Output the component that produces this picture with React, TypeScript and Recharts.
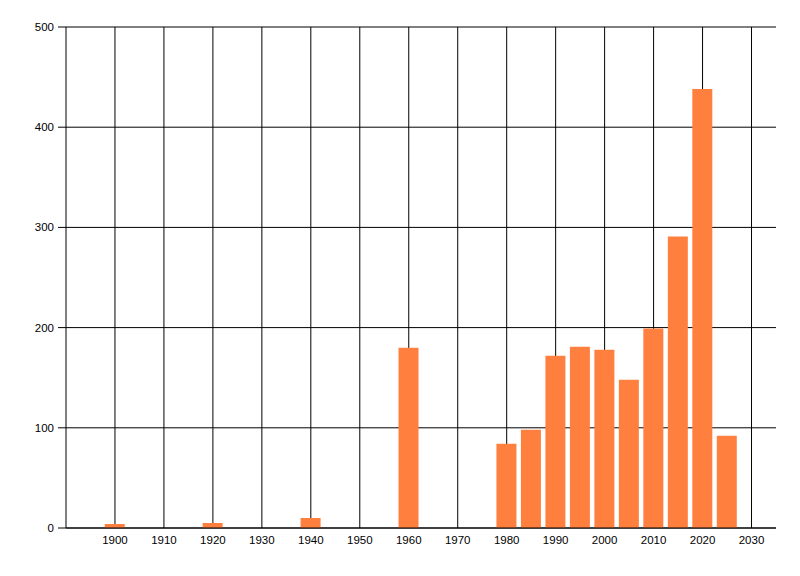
import React from "react";
import { BarChart, Bar, XAxis, YAxis, CartesianGrid } from "recharts";

const years = [1900, 1920, 1940, 1960, 1980, 1985, 1990, 1995, 2000, 2005, 2010, 2015, 2020, 2025];
const counts = [4, 5, 10, 180, 84, 98, 172, 181, 178, 148, 199, 291, 438, 92];
const xTicks = [1900, 1910, 1920, 1930, 1940, 1950, 1960, 1970, 1980, 1990, 2000, 2010, 2020, 2030];
const yTicks = [0, 100, 200, 300, 400, 500];

const data = years.map((y, i) => ({ year: y, count: counts[i] }));

const verticalGen = (props: any) => {
  const axis = props && props.xAxis;
  const scale = axis && axis.scale;
  if (scale && typeof scale === "function") {
    return xTicks.map((t) => scale(t));
  }
  if (scale && typeof scale.map === "function") {
    return xTicks.map((t) => scale.map(t));
  }
  return [];
};

export default function App() {
  return (
    <div style={{ fontFamily: "'Liberation Sans', Arial, sans-serif" }}>
      <BarChart
        width={792}
        height={568}
        data={data}
        margin={{ top: 19, right: 24, bottom: 18, left: 0 }}
      >
        <CartesianGrid stroke="#000" strokeWidth={1} verticalCoordinatesGenerator={verticalGen} />
        <XAxis
          dataKey="year"
          type="number"
          domain={[1890, 2035]}
          ticks={xTicks}
          tickLine={false}
          axisLine={{ stroke: "#000" }}
          tick={{ fill: "#000", fontSize: 11.5 }}
          tickSize={6}
          tickMargin={2}
          height={30}
          allowDataOverflow
        />
        <YAxis
          type="number"
          domain={[0, 500]}
          ticks={yTicks}
          width={58}
          axisLine={{ stroke: "#000" }}
          tickLine={{ stroke: "#000" }}
          tickSize={8}
          tickMargin={4}
          tick={{ fill: "#000", fontSize: 11.5 }}
        />
        <Bar dataKey="count" fill="#FF7F3F" barSize={20} isAnimationActive={false} />
      </BarChart>
    </div>
  );
}
